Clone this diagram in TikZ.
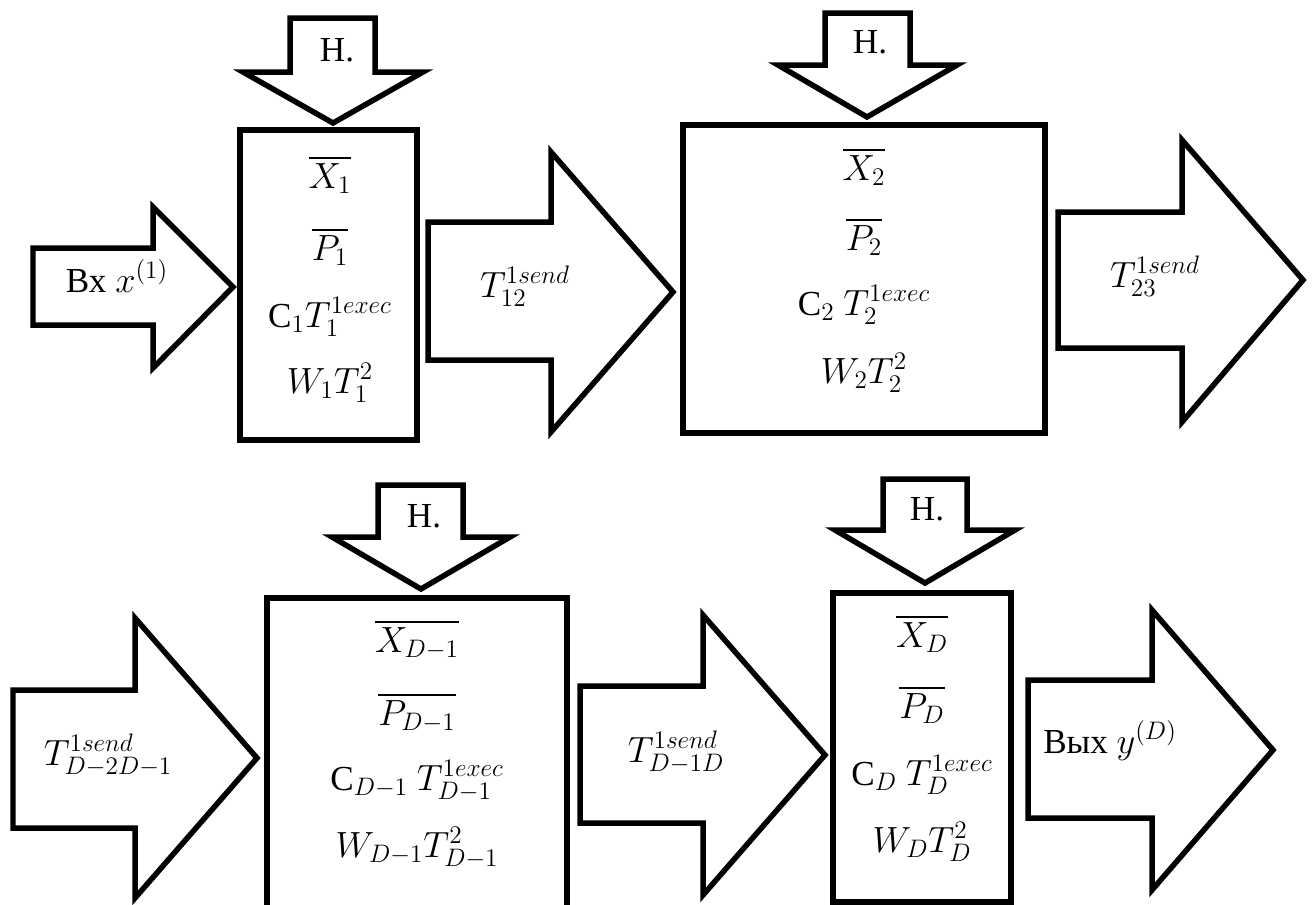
\documentclass[tikz,border=0pt]{standalone}
\usepackage{amsmath}
\usepackage{fontspec}
\setmainfont{Liberation Serif}
\newfontfamily\serifcyr{Liberation Serif}
% larger scripts, in the manner of Cambria Math
\DeclareMathSizes{20}{20}{15}{12}
\begin{document}
\begin{tikzpicture}[x=0.02cm,y=-0.02cm,
  shape outline/.style={draw=black, line width=0.11cm, line join=miter, fill=white},
  stagebox/.style={shape outline, rectangle, inner sep=0pt},
  txt/.style={anchor=base, inner sep=0pt, font=\serifcyr\fontsize{20}{24}\selectfont},
]
\useasboundingbox (0,0) rectangle (1315,904);
\clip (0,0) rectangle (1315,904);

% ---------- stage boxes ----------
\node[stagebox, minimum width=3.54cm, minimum height=6.2cm]  (b1) at (328.5,285) {};
\node[stagebox, minimum width=7.24cm, minimum height=6.16cm] (b2) at (864,279) {};
\node[stagebox, minimum width=6cm,    minimum height=7.04cm] (b3) at (417,774) {};
\node[stagebox, minimum width=3.56cm, minimum height=6.18cm] (b4) at (922,747.5) {};

% ---------- block arrows pointing right ----------
\draw[shape outline] (33,248) -- (153,248) -- (153,207) -- (233,287) -- (153,368) -- (153,325) -- (33,325) -- cycle;
\draw[shape outline] (428,222) -- (551,222) -- (551,152) -- (673,292) -- (551,432) -- (551,360) -- (428,360) -- cycle;
\draw[shape outline] (1058,212) -- (1182,212) -- (1182,140) -- (1303,280) -- (1182,422) -- (1182,348) -- (1058,348) -- cycle;
\draw[shape outline] (13,690) -- (135,690) -- (135,618) -- (257,758) -- (135,898) -- (135,828) -- (13,828) -- cycle;
\draw[shape outline] (580,686) -- (703,686) -- (703,615) -- (825,755) -- (703,895) -- (703,823) -- (580,823) -- cycle;
\draw[shape outline] (1028,680) -- (1152,680) -- (1152,610) -- (1273,750) -- (1152,890) -- (1152,818) -- (1028,818) -- cycle;

% ---------- block arrows pointing down ----------
\draw[shape outline] (290,18) -- (375,18) -- (375,72) -- (423,72) -- (333,123) -- (243,72) -- (290,72) -- cycle;
\draw[shape outline] (825,13) -- (910,13) -- (910,65) -- (957,65) -- (867,117) -- (778,65) -- (825,65) -- cycle;
\draw[shape outline] (378,485) -- (463,485) -- (463,537) -- (510,537) -- (421,589) -- (332,537) -- (378,537) -- cycle;
\draw[shape outline] (883,479) -- (967,479) -- (967,530) -- (1015,530) -- (925,583) -- (835,530) -- (883,530) -- cycle;

% ---------- arrow labels ----------
\node[txt] (n1) at (337,61) {Н.};
\node[txt] (n2) at (870,53) {Н.};
\node[txt] (n3) at (424,527) {Н.};
\node[txt] (n4) at (927,520) {Н.};

\node[txt] (in)  at (117,292) {Вх $x^{(1)}$};
\node[txt] (s12) at (525,297) {$T_{12}^{1send}$};
\node[txt] (s23) at (1155,287) {$T_{23}^{1send}$};
\node[txt] (sD2) at (108,765) {$T_{D-2D-1}^{1send}$};
\node[txt] (sD1) at (676,762) {$T_{D-1D}^{1send}$};
\node[txt] (out) at (1110,753) {Вых $y^{(D)}$};

% ---------- box contents ----------
\node[txt] (x1) at (330,188) {$\overline{X_1}$};
\node[txt] (p1) at (330,260) {$\overline{P_1}$};
\node[txt] (c1) at (330,327) {$\text{С}_1 T_1^{1exec}$};
\node[txt] (w1) at (330,393) {$W_1 T_1^2$};

\node[txt] (x2) at (864,180) {$\overline{X_2}$};
\node[txt] (p2) at (864,250) {$\overline{P_2}$};
\node[txt] (c2) at (864,315) {$\text{С}_2\ T_2^{1exec}$};
\node[txt] (w2) at (864,383) {$W_2 T_2^2$};

\node[txt] (x3) at (417,652) {$\overline{X_{D-1}}$};
\node[txt] (p3) at (417,725) {$\overline{P_{D-1}}$};
\node[txt] (c3) at (417,790) {$\text{С}_{D-1}\ T_{D-1}^{1exec}$};
\node[txt] (w3) at (417,857) {$W_{D-1} T_{D-1}^2$};

\node[txt] (x4) at (922,647) {$\overline{X_D}$};
\node[txt] (p4) at (922,718) {$\overline{P_D}$};
\node[txt] (c4) at (922,785) {$\text{С}_D\ T_D^{1exec}$};
\node[txt] (w4) at (922,852) {$W_D T_D^2$};
\end{tikzpicture}
\end{document}
